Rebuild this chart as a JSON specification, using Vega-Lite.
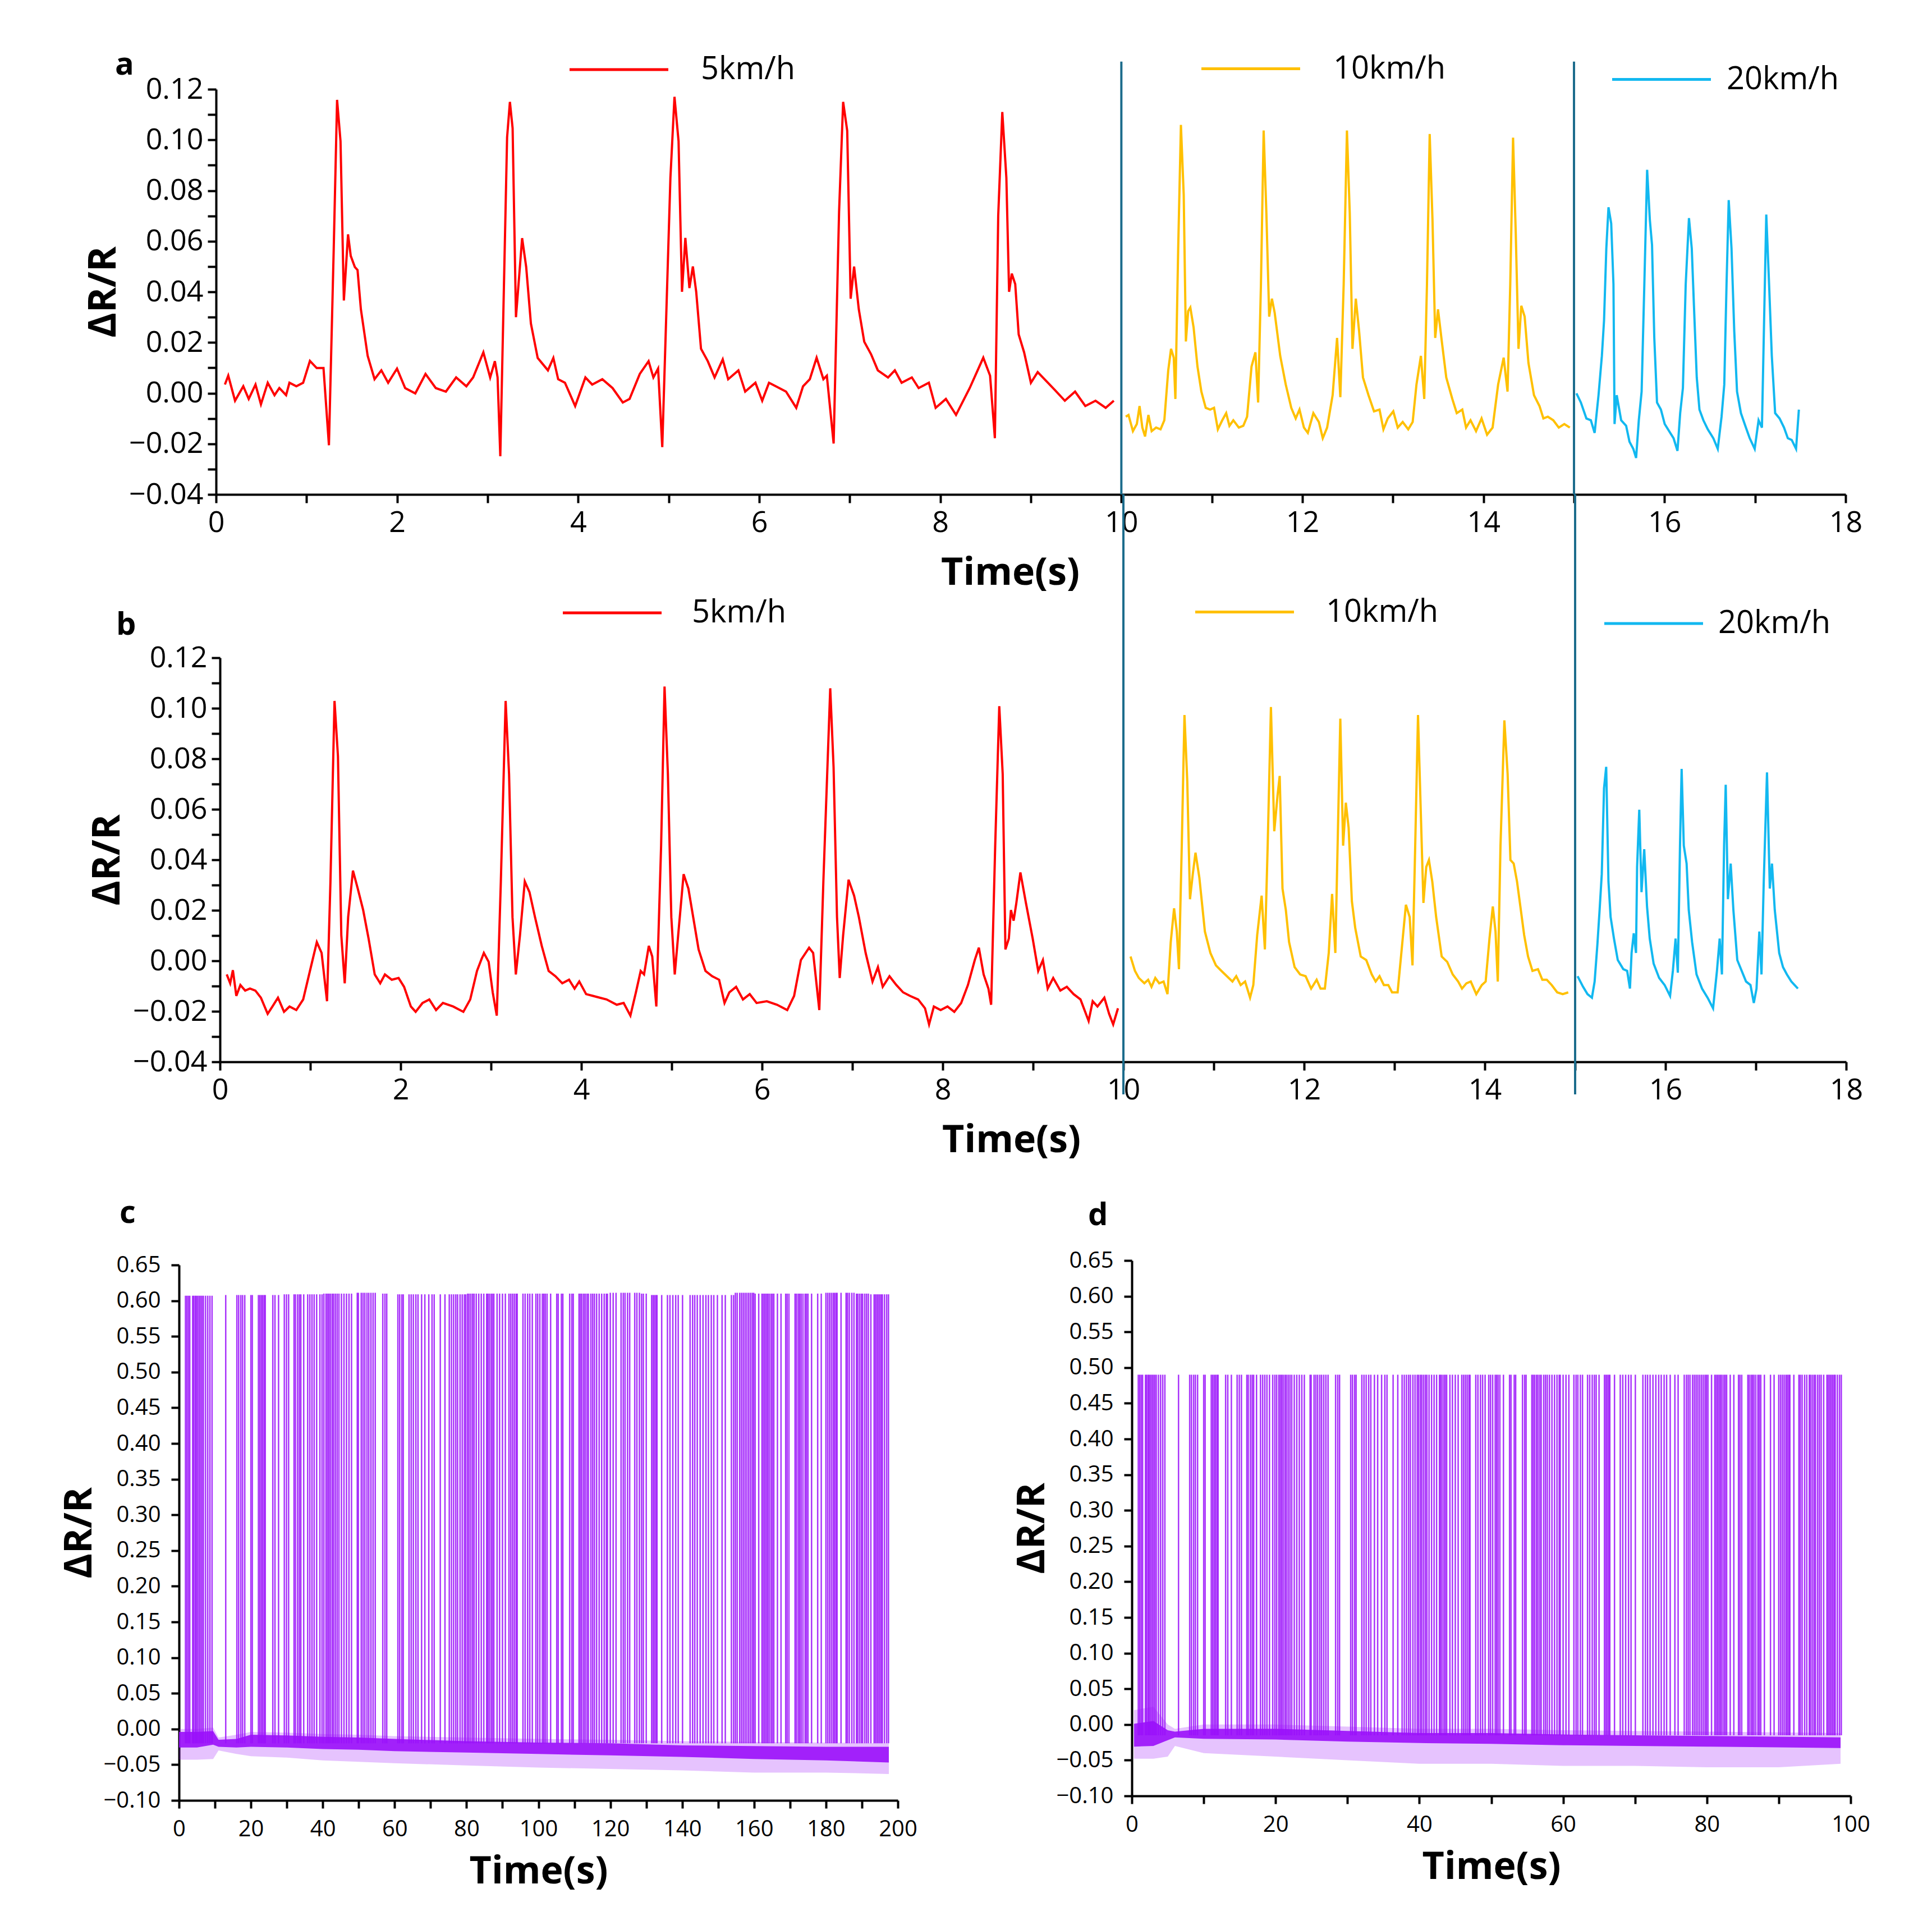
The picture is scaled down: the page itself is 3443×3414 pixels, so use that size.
{
  "$schema": "https://vega.github.io/schema/vega-lite/v6.json",
  "background": "white",
  "padding": {"left": 108, "top": 32, "right": 10, "bottom": 10},
  "bounds": "flush",
  "spacing": 291,
  "datasets": {
    "splits": [{"t": 10}, {"t": 15}],
    "a5": [{"t":0.098,"v":0.0034},{"t":0.135,"v":0.0069},{"t":0.21,"v":-0.003},{"t":0.301,"v":0.0027},{"t":0.361,"v":-0.0023},{"t":0.436,"v":0.0034},{"t":0.496,"v":-0.0044},{"t":0.571,"v":0.0041},{"t":0.646,"v":-0.0008},{"t":0.699,"v":0.002},{"t":0.774,"v":-0.0008},{"t":0.811,"v":0.0041},{"t":0.887,"v":0.0027},{"t":0.962,"v":0.0041},{"t":1.037,"v":0.0127},{"t":1.112,"v":0.0099},{"t":1.187,"v":0.0099},{"t":1.247,"v":-0.0206},{"t":1.3,"v":0.057},{"t":1.337,"v":0.1158},{"t":1.375,"v":0.0995},{"t":1.412,"v":0.0366},{"t":1.458,"v":0.0627},{"t":1.488,"v":0.0542},{"t":1.533,"v":0.0498},{"t":1.563,"v":0.0486},{"t":1.6,"v":0.0331},{"t":1.675,"v":0.0147},{"t":1.751,"v":0.0055},{"t":1.826,"v":0.009},{"t":1.901,"v":0.0041},{"t":1.999,"v":0.0097},{"t":2.089,"v":0.002},{"t":2.201,"v":-0.0001},{"t":2.314,"v":0.0076},{"t":2.427,"v":0.002},{"t":2.539,"v":0.0006},{"t":2.652,"v":0.0062},{"t":2.765,"v":0.0027},{"t":2.84,"v":0.0062},{"t":2.953,"v":0.0161},{"t":3.028,"v":0.0062},{"t":3.08,"v":0.0126},{"t":3.11,"v":0.0062},{"t":3.14,"v":-0.0249},{"t":3.215,"v":0.101},{"t":3.246,"v":0.115},{"t":3.276,"v":0.1046},{"t":3.313,"v":0.03},{"t":3.381,"v":0.0612},{"t":3.426,"v":0.0498},{"t":3.478,"v":0.0275},{"t":3.553,"v":0.0139},{"t":3.666,"v":0.009},{"t":3.726,"v":0.0139},{"t":3.779,"v":0.0055},{"t":3.854,"v":0.0041},{"t":3.967,"v":-0.0051},{"t":4.08,"v":0.0062},{"t":4.155,"v":0.0034},{"t":4.267,"v":0.0055},{"t":4.38,"v":0.002},{"t":4.493,"v":-0.0037},{"t":4.568,"v":-0.0023},{"t":4.681,"v":0.0076},{"t":4.778,"v":0.0126},{"t":4.831,"v":0.0062},{"t":4.883,"v":0.0097},{"t":4.929,"v":-0.0213},{"t":5.019,"v":0.085},{"t":5.064,"v":0.117},{"t":5.109,"v":0.0995},{"t":5.147,"v":0.04},{"t":5.184,"v":0.0613},{"t":5.229,"v":0.0415},{"t":5.267,"v":0.05},{"t":5.304,"v":0.04},{"t":5.357,"v":0.0175},{"t":5.432,"v":0.0126},{"t":5.507,"v":0.0062},{"t":5.597,"v":0.0133},{"t":5.657,"v":0.0055},{"t":5.77,"v":0.009},{"t":5.845,"v":0.0006},{"t":5.958,"v":0.0041},{"t":6.033,"v":-0.003},{"t":6.108,"v":0.0041},{"t":6.183,"v":0.0027},{"t":6.296,"v":0.0006},{"t":6.409,"v":-0.0058},{"t":6.484,"v":0.0027},{"t":6.559,"v":0.0055},{"t":6.634,"v":0.014},{"t":6.709,"v":0.0055},{"t":6.747,"v":0.0069},{"t":6.822,"v":-0.0199},{"t":6.882,"v":0.0715},{"t":6.927,"v":0.115},{"t":6.972,"v":0.1036},{"t":7.01,"v":0.0373},{"t":7.048,"v":0.05},{"t":7.1,"v":0.0331},{"t":7.16,"v":0.0203},{"t":7.235,"v":0.0154},{"t":7.31,"v":0.009},{"t":7.423,"v":0.0062},{"t":7.498,"v":0.009},{"t":7.573,"v":0.0041},{"t":7.686,"v":0.0062},{"t":7.761,"v":0.002},{"t":7.874,"v":0.0041},{"t":7.949,"v":-0.0058},{"t":8.062,"v":-0.0023},{"t":8.174,"v":-0.0086},{"t":8.325,"v":0.002},{"t":8.475,"v":0.014},{"t":8.55,"v":0.0069},{"t":8.603,"v":-0.0178},{"t":8.64,"v":0.07},{"t":8.685,"v":0.111},{"t":8.73,"v":0.085},{"t":8.76,"v":0.04},{"t":8.79,"v":0.0472},{"t":8.828,"v":0.043},{"t":8.866,"v":0.0232},{"t":8.926,"v":0.0161},{"t":9.001,"v":0.0041},{"t":9.076,"v":0.0083},{"t":9.151,"v":0.0055},{"t":9.264,"v":0.0013},{"t":9.376,"v":-0.003},{"t":9.489,"v":0.0006},{"t":9.602,"v":-0.0051},{"t":9.715,"v":-0.003},{"t":9.827,"v":-0.0058},{"t":9.917,"v":-0.003}],
    "a10": [{"t":10.049,"v":-0.0093},{"t":10.079,"v":-0.0086},{"t":10.128,"v":-0.015},{"t":10.171,"v":-0.0122},{"t":10.201,"v":-0.0051},{"t":10.232,"v":-0.0136},{"t":10.262,"v":-0.0171},{"t":10.299,"v":-0.0086},{"t":10.335,"v":-0.015},{"t":10.384,"v":-0.0136},{"t":10.433,"v":-0.0143},{"t":10.475,"v":-0.0107},{"t":10.518,"v":0.009},{"t":10.549,"v":0.0175},{"t":10.579,"v":0.014},{"t":10.597,"v":-0.0023},{"t":10.628,"v":0.0571},{"t":10.658,"v":0.1059},{"t":10.689,"v":0.0783},{"t":10.713,"v":0.0204},{"t":10.738,"v":0.0324},{"t":10.762,"v":0.0338},{"t":10.798,"v":0.026},{"t":10.841,"v":0.0105},{"t":10.884,"v":0.0006},{"t":10.932,"v":-0.0058},{"t":10.981,"v":-0.0065},{"t":11.024,"v":-0.0058},{"t":11.066,"v":-0.0143},{"t":11.115,"v":-0.0107},{"t":11.158,"v":-0.0079},{"t":11.194,"v":-0.0129},{"t":11.237,"v":-0.0107},{"t":11.298,"v":-0.0136},{"t":11.347,"v":-0.0129},{"t":11.389,"v":-0.0093},{"t":11.438,"v":0.0105},{"t":11.481,"v":0.0161},{"t":11.511,"v":-0.0037},{"t":11.542,"v":0.043},{"t":11.572,"v":0.1037},{"t":11.602,"v":0.0712},{"t":11.633,"v":0.0302},{"t":11.663,"v":0.0373},{"t":11.694,"v":0.0317},{"t":11.755,"v":0.0147},{"t":11.816,"v":0.0034},{"t":11.877,"v":-0.0058},{"t":11.926,"v":-0.01},{"t":11.968,"v":-0.0065},{"t":12.017,"v":-0.0136},{"t":12.06,"v":-0.0157},{"t":12.121,"v":-0.0079},{"t":12.182,"v":-0.0114},{"t":12.225,"v":-0.0178},{"t":12.273,"v":-0.0136},{"t":12.334,"v":-0.0008},{"t":12.383,"v":0.0218},{"t":12.419,"v":-0.0016},{"t":12.456,"v":0.043},{"t":12.492,"v":0.1037},{"t":12.523,"v":0.0712},{"t":12.553,"v":0.0175},{"t":12.59,"v":0.0373},{"t":12.626,"v":0.0246},{"t":12.669,"v":0.0062},{"t":12.73,"v":-0.0008},{"t":12.791,"v":-0.0072},{"t":12.852,"v":-0.0065},{"t":12.895,"v":-0.0143},{"t":12.943,"v":-0.01},{"t":13.004,"v":-0.0072},{"t":13.053,"v":-0.0136},{"t":13.108,"v":-0.0114},{"t":13.169,"v":-0.0143},{"t":13.218,"v":-0.0114},{"t":13.26,"v":0.0034},{"t":13.309,"v":0.0147},{"t":13.346,"v":-0.0023},{"t":13.376,"v":0.043},{"t":13.406,"v":0.1023},{"t":13.437,"v":0.0684},{"t":13.467,"v":0.0218},{"t":13.498,"v":0.0331},{"t":13.54,"v":0.0204},{"t":13.589,"v":0.0062},{"t":13.656,"v":-0.0023},{"t":13.705,"v":-0.0079},{"t":13.766,"v":-0.0065},{"t":13.808,"v":-0.0136},{"t":13.857,"v":-0.0107},{"t":13.918,"v":-0.015},{"t":13.979,"v":-0.01},{"t":14.04,"v":-0.0164},{"t":14.101,"v":-0.0136},{"t":14.162,"v":0.0034},{"t":14.223,"v":0.014},{"t":14.266,"v":0.0006},{"t":14.296,"v":0.043},{"t":14.327,"v":0.1009},{"t":14.357,"v":0.0628},{"t":14.387,"v":0.0175},{"t":14.418,"v":0.0345},{"t":14.455,"v":0.0302},{"t":14.497,"v":0.0119},{"t":14.558,"v":-0.0008},{"t":14.619,"v":-0.0051},{"t":14.662,"v":-0.01},{"t":14.711,"v":-0.0093},{"t":14.771,"v":-0.0107},{"t":14.832,"v":-0.0136},{"t":14.893,"v":-0.0122},{"t":14.954,"v":-0.0136}],
    "a20": [{"t":15.027,"v":-0.0001},{"t":15.076,"v":-0.0037},{"t":15.137,"v":-0.01},{"t":15.186,"v":-0.0107},{"t":15.228,"v":-0.0157},{"t":15.271,"v":-0.0008},{"t":15.308,"v":0.0147},{"t":15.332,"v":0.0288},{"t":15.357,"v":0.0571},{"t":15.381,"v":0.0734},{"t":15.411,"v":0.067},{"t":15.436,"v":0.043},{"t":15.448,"v":-0.0122},{"t":15.472,"v":-0.0008},{"t":15.521,"v":-0.0107},{"t":15.576,"v":-0.0129},{"t":15.613,"v":-0.0192},{"t":15.655,"v":-0.022},{"t":15.686,"v":-0.0256},{"t":15.716,"v":-0.0107},{"t":15.747,"v":0.0006},{"t":15.777,"v":0.043},{"t":15.808,"v":0.0882},{"t":15.838,"v":0.0684},{"t":15.862,"v":0.0585},{"t":15.887,"v":0.0218},{"t":15.917,"v":-0.0037},{"t":15.96,"v":-0.0065},{"t":16.002,"v":-0.0122},{"t":16.051,"v":-0.015},{"t":16.1,"v":-0.0178},{"t":16.143,"v":-0.0228},{"t":16.173,"v":-0.0079},{"t":16.203,"v":0.002},{"t":16.234,"v":0.043},{"t":16.27,"v":0.0691},{"t":16.301,"v":0.0571},{"t":16.325,"v":0.0345},{"t":16.356,"v":0.0062},{"t":16.386,"v":-0.0065},{"t":16.429,"v":-0.0107},{"t":16.478,"v":-0.0143},{"t":16.539,"v":-0.0178},{"t":16.588,"v":-0.022},{"t":16.63,"v":-0.0093},{"t":16.66,"v":0.0034},{"t":16.685,"v":0.043},{"t":16.709,"v":0.0762},{"t":16.74,"v":0.0571},{"t":16.77,"v":0.0246},{"t":16.801,"v":0.0006},{"t":16.844,"v":-0.0079},{"t":16.892,"v":-0.0129},{"t":16.941,"v":-0.0178},{"t":16.996,"v":-0.022},{"t":17.039,"v":-0.0107},{"t":17.076,"v":-0.0136},{"t":17.1,"v":0.0288},{"t":17.124,"v":0.0705},{"t":17.155,"v":0.043},{"t":17.185,"v":0.0147},{"t":17.222,"v":-0.0079},{"t":17.271,"v":-0.01},{"t":17.32,"v":-0.0136},{"t":17.362,"v":-0.0178},{"t":17.405,"v":-0.0185},{"t":17.453,"v":-0.022},{"t":17.484,"v":-0.0065}],
    "b5": [{"t":0.075,"v":-0.0054},{"t":0.113,"v":-0.0089},{"t":0.143,"v":-0.0037},{"t":0.181,"v":-0.0139},{"t":0.226,"v":-0.0096},{"t":0.279,"v":-0.0118},{"t":0.332,"v":-0.011},{"t":0.392,"v":-0.0118},{"t":0.453,"v":-0.0146},{"t":0.528,"v":-0.021},{"t":0.581,"v":-0.0181},{"t":0.642,"v":-0.0146},{"t":0.709,"v":-0.0202},{"t":0.77,"v":-0.0181},{"t":0.845,"v":-0.0195},{"t":0.921,"v":-0.0153},{"t":0.996,"v":-0.004},{"t":1.072,"v":0.0074},{"t":1.125,"v":0.0031},{"t":1.185,"v":-0.016},{"t":1.223,"v":0.0314},{"t":1.268,"v":0.1029},{"t":1.306,"v":0.081},{"t":1.343,"v":0.0102},{"t":1.381,"v":-0.0089},{"t":1.419,"v":0.0173},{"t":1.472,"v":0.0357},{"t":1.525,"v":0.0286},{"t":1.585,"v":0.0201},{"t":1.645,"v":0.0088},{"t":1.713,"v":-0.0054},{"t":1.774,"v":-0.0089},{"t":1.826,"v":-0.0054},{"t":1.902,"v":-0.0075},{"t":1.977,"v":-0.0068},{"t":2.038,"v":-0.0103},{"t":2.113,"v":-0.0181},{"t":2.166,"v":-0.0202},{"t":2.242,"v":-0.0167},{"t":2.317,"v":-0.0153},{"t":2.392,"v":-0.0195},{"t":2.468,"v":-0.0167},{"t":2.581,"v":-0.0181},{"t":2.694,"v":-0.0202},{"t":2.77,"v":-0.0153},{"t":2.845,"v":-0.004},{"t":2.921,"v":0.0031},{"t":2.974,"v":-0.0004},{"t":3.019,"v":-0.0125},{"t":3.064,"v":-0.0217},{"t":3.109,"v":0.0314},{"t":3.162,"v":0.1029},{"t":3.2,"v":0.0739},{"t":3.238,"v":0.0173},{"t":3.275,"v":-0.0054},{"t":3.321,"v":0.0102},{"t":3.374,"v":0.0314},{"t":3.426,"v":0.0272},{"t":3.487,"v":0.0173},{"t":3.562,"v":0.0059},{"t":3.638,"v":-0.004},{"t":3.713,"v":-0.0061},{"t":3.789,"v":-0.0089},{"t":3.864,"v":-0.0075},{"t":3.925,"v":-0.011},{"t":3.977,"v":-0.0082},{"t":4.053,"v":-0.0132},{"t":4.128,"v":-0.0139},{"t":4.204,"v":-0.0146},{"t":4.279,"v":-0.0153},{"t":4.392,"v":-0.0174},{"t":4.468,"v":-0.0167},{"t":4.543,"v":-0.0217},{"t":4.604,"v":-0.0125},{"t":4.657,"v":-0.004},{"t":4.694,"v":-0.0054},{"t":4.747,"v":0.0059},{"t":4.785,"v":0.0017},{"t":4.83,"v":-0.0181},{"t":4.883,"v":0.0456},{"t":4.921,"v":0.1086},{"t":4.958,"v":0.0739},{"t":4.996,"v":0.0173},{"t":5.034,"v":-0.0054},{"t":5.072,"v":0.0102},{"t":5.132,"v":0.0343},{"t":5.185,"v":0.0286},{"t":5.238,"v":0.0173},{"t":5.298,"v":0.0045},{"t":5.374,"v":-0.004},{"t":5.449,"v":-0.0061},{"t":5.525,"v":-0.0075},{"t":5.585,"v":-0.0167},{"t":5.638,"v":-0.0125},{"t":5.713,"v":-0.0103},{"t":5.789,"v":-0.0153},{"t":5.864,"v":-0.0132},{"t":5.94,"v":-0.0167},{"t":6.053,"v":-0.016},{"t":6.166,"v":-0.0174},{"t":6.279,"v":-0.0195},{"t":6.355,"v":-0.0139},{"t":6.43,"v":0.0003},{"t":6.521,"v":0.0052},{"t":6.566,"v":0.0031},{"t":6.596,"v":-0.0068},{"t":6.634,"v":-0.0195},{"t":6.679,"v":0.0314},{"t":6.755,"v":0.1079},{"t":6.792,"v":0.0767},{"t":6.83,"v":0.0173},{"t":6.86,"v":-0.0068},{"t":6.898,"v":0.0102},{"t":6.958,"v":0.0321},{"t":7.019,"v":0.0258},{"t":7.072,"v":0.0173},{"t":7.147,"v":0.0031},{"t":7.223,"v":-0.0082},{"t":7.283,"v":-0.0025},{"t":7.336,"v":-0.0103},{"t":7.411,"v":-0.0061},{"t":7.487,"v":-0.0096},{"t":7.562,"v":-0.0125},{"t":7.638,"v":-0.0139},{"t":7.728,"v":-0.0153},{"t":7.804,"v":-0.0188},{"t":7.849,"v":-0.0252},{"t":7.902,"v":-0.0181},{"t":7.977,"v":-0.0195},{"t":8.053,"v":-0.0181},{"t":8.128,"v":-0.0202},{"t":8.204,"v":-0.0167},{"t":8.279,"v":-0.0096},{"t":8.355,"v":0.0003},{"t":8.4,"v":0.0052},{"t":8.453,"v":-0.0054},{"t":8.506,"v":-0.011},{"t":8.536,"v":-0.0174},{"t":8.581,"v":0.0456},{"t":8.626,"v":0.1008},{"t":8.664,"v":0.0739},{"t":8.694,"v":0.0045},{"t":8.732,"v":0.0088},{"t":8.755,"v":0.0201},{"t":8.785,"v":0.0159},{"t":8.815,"v":0.0229},{"t":8.86,"v":0.035},{"t":8.921,"v":0.0229},{"t":8.996,"v":0.0088},{"t":9.057,"v":-0.004},{"t":9.109,"v":0.0003},{"t":9.162,"v":-0.011},{"t":9.223,"v":-0.0068},{"t":9.302,"v":-0.0118},{"t":9.374,"v":-0.0103},{"t":9.449,"v":-0.0132},{"t":9.525,"v":-0.0153},{"t":9.615,"v":-0.0238},{"t":9.66,"v":-0.016},{"t":9.713,"v":-0.0181},{"t":9.789,"v":-0.0146},{"t":9.842,"v":-0.021},{"t":9.887,"v":-0.0252},{"t":9.94,"v":-0.0188}],
    "b10": [{"t":10.079,"v":0.0017},{"t":10.128,"v":-0.004},{"t":10.171,"v":-0.0068},{"t":10.232,"v":-0.0089},{"t":10.274,"v":-0.0075},{"t":10.311,"v":-0.0103},{"t":10.353,"v":-0.0068},{"t":10.396,"v":-0.0089},{"t":10.445,"v":-0.0082},{"t":10.488,"v":-0.0132},{"t":10.524,"v":0.0074},{"t":10.561,"v":0.0208},{"t":10.591,"v":0.0116},{"t":10.615,"v":-0.0033},{"t":10.646,"v":0.0456},{"t":10.676,"v":0.0973},{"t":10.707,"v":0.0711},{"t":10.737,"v":0.0244},{"t":10.768,"v":0.0343},{"t":10.798,"v":0.0428},{"t":10.841,"v":0.0329},{"t":10.902,"v":0.0116},{"t":10.963,"v":0.0031},{"t":11.024,"v":-0.0018},{"t":11.085,"v":-0.004},{"t":11.146,"v":-0.0061},{"t":11.207,"v":-0.0082},{"t":11.249,"v":-0.0061},{"t":11.298,"v":-0.0096},{"t":11.347,"v":-0.0082},{"t":11.402,"v":-0.0146},{"t":11.438,"v":-0.0096},{"t":11.481,"v":0.0102},{"t":11.53,"v":0.0258},{"t":11.566,"v":0.0045},{"t":11.597,"v":0.0456},{"t":11.633,"v":0.1005},{"t":11.67,"v":0.0513},{"t":11.706,"v":0.0654},{"t":11.73,"v":0.0732},{"t":11.761,"v":0.0286},{"t":11.798,"v":0.0201},{"t":11.834,"v":0.0074},{"t":11.895,"v":-0.0025},{"t":11.956,"v":-0.0054},{"t":12.017,"v":-0.0061},{"t":12.078,"v":-0.011},{"t":12.139,"v":-0.0075},{"t":12.182,"v":-0.011},{"t":12.23,"v":-0.011},{"t":12.273,"v":0.0031},{"t":12.31,"v":0.0265},{"t":12.346,"v":0.0031},{"t":12.371,"v":0.0456},{"t":12.401,"v":0.0959},{"t":12.432,"v":0.0456},{"t":12.462,"v":0.0626},{"t":12.493,"v":0.0527},{"t":12.529,"v":0.0236},{"t":12.566,"v":0.013},{"t":12.627,"v":0.0017},{"t":12.688,"v":0.0003},{"t":12.749,"v":-0.0054},{"t":12.792,"v":-0.0082},{"t":12.835,"v":-0.0061},{"t":12.883,"v":-0.0096},{"t":12.932,"v":-0.0096},{"t":12.974,"v":-0.0125},{"t":13.035,"v":-0.0125},{"t":13.084,"v":0.0059},{"t":13.127,"v":0.0222},{"t":13.169,"v":0.0173},{"t":13.2,"v":-0.0018},{"t":13.23,"v":0.0456},{"t":13.261,"v":0.0973},{"t":13.291,"v":0.0598},{"t":13.321,"v":0.0229},{"t":13.352,"v":0.0371},{"t":13.382,"v":0.0399},{"t":13.419,"v":0.0314},{"t":13.462,"v":0.0173},{"t":13.523,"v":0.0017},{"t":13.584,"v":-0.0004},{"t":13.645,"v":-0.0054},{"t":13.705,"v":-0.0082},{"t":13.748,"v":-0.011},{"t":13.797,"v":-0.0089},{"t":13.845,"v":-0.0082},{"t":13.906,"v":-0.0132},{"t":13.967,"v":-0.0096},{"t":14.01,"v":-0.0082},{"t":14.052,"v":0.0088},{"t":14.089,"v":0.0215},{"t":14.119,"v":0.0116},{"t":14.144,"v":-0.0082},{"t":14.174,"v":0.0456},{"t":14.217,"v":0.0952},{"t":14.253,"v":0.0739},{"t":14.284,"v":0.0399},{"t":14.32,"v":0.0385},{"t":14.357,"v":0.0314},{"t":14.394,"v":0.0215},{"t":14.436,"v":0.0102},{"t":14.479,"v":0.0017},{"t":14.528,"v":-0.004},{"t":14.589,"v":-0.0033},{"t":14.637,"v":-0.0075},{"t":14.686,"v":-0.0075},{"t":14.741,"v":-0.0096},{"t":14.802,"v":-0.0125},{"t":14.863,"v":-0.0132},{"t":14.924,"v":-0.0125}],
    "b20": [{"t":15.027,"v":-0.0061},{"t":15.088,"v":-0.0103},{"t":15.137,"v":-0.0132},{"t":15.186,"v":-0.0146},{"t":15.216,"v":-0.0082},{"t":15.247,"v":0.0067},{"t":15.271,"v":0.0201},{"t":15.295,"v":0.0343},{"t":15.32,"v":0.0683},{"t":15.344,"v":0.0768},{"t":15.369,"v":0.0314},{"t":15.393,"v":0.0173},{"t":15.43,"v":0.0088},{"t":15.472,"v":0.0003},{"t":15.533,"v":-0.0033},{"t":15.576,"v":-0.004},{"t":15.607,"v":-0.011},{"t":15.625,"v":0.0031},{"t":15.649,"v":0.0109},{"t":15.674,"v":0.0031},{"t":15.686,"v":0.0371},{"t":15.71,"v":0.0598},{"t":15.735,"v":0.0272},{"t":15.765,"v":0.0442},{"t":15.796,"v":0.0215},{"t":15.826,"v":0.0088},{"t":15.869,"v":-0.0011},{"t":15.93,"v":-0.0068},{"t":15.991,"v":-0.0096},{"t":16.051,"v":-0.0139},{"t":16.082,"v":-0.004},{"t":16.112,"v":0.0088},{"t":16.137,"v":-0.0047},{"t":16.161,"v":0.0456},{"t":16.179,"v":0.076},{"t":16.203,"v":0.0456},{"t":16.234,"v":0.0385},{"t":16.258,"v":0.0201},{"t":16.295,"v":0.0074},{"t":16.344,"v":-0.0054},{"t":16.405,"v":-0.011},{"t":16.466,"v":-0.0146},{"t":16.527,"v":-0.0188},{"t":16.57,"v":-0.004},{"t":16.6,"v":0.0088},{"t":16.625,"v":-0.0054},{"t":16.649,"v":0.0456},{"t":16.667,"v":0.0697},{"t":16.691,"v":0.0244},{"t":16.722,"v":0.0385},{"t":16.752,"v":0.0201},{"t":16.795,"v":0.0003},{"t":16.844,"v":-0.004},{"t":16.892,"v":-0.0082},{"t":16.941,"v":-0.0096},{"t":16.978,"v":-0.0167},{"t":17.008,"v":-0.011},{"t":17.039,"v":0.0116},{"t":17.063,"v":-0.0054},{"t":17.088,"v":0.0314},{"t":17.124,"v":0.0746},{"t":17.155,"v":0.0286},{"t":17.179,"v":0.0385},{"t":17.21,"v":0.0201},{"t":17.259,"v":0.0031},{"t":17.301,"v":-0.0025},{"t":17.344,"v":-0.0054},{"t":17.393,"v":-0.0082},{"t":17.429,"v":-0.0096},{"t":17.466,"v":-0.011}],
    "cBase": [{"t":0,"lo":-0.026,"hi":-0.004,"wlo":-0.043,"whi":0},{"t":5,"lo":-0.026,"hi":-0.004,"wlo":-0.043,"whi":0},{"t":9.5,"lo":-0.022,"hi":-0.003,"wlo":-0.042,"whi":0.002},{"t":11,"lo":-0.025,"hi":-0.015,"wlo":-0.03,"whi":-0.012},{"t":16,"lo":-0.026,"hi":-0.014,"wlo":-0.035,"whi":-0.008},{"t":20,"lo":-0.025,"hi":-0.008,"wlo":-0.038,"whi":-0.004},{"t":30,"lo":-0.026,"hi":-0.009,"wlo":-0.04,"whi":-0.005},{"t":40,"lo":-0.028,"hi":-0.011,"wlo":-0.044,"whi":-0.007},{"t":50,"lo":-0.029,"hi":-0.012,"wlo":-0.046,"whi":-0.008},{"t":60,"lo":-0.031,"hi":-0.014,"wlo":-0.048,"whi":-0.01},{"t":80,"lo":-0.033,"hi":-0.017,"wlo":-0.051,"whi":-0.012},{"t":100,"lo":-0.035,"hi":-0.019,"wlo":-0.054,"whi":-0.014},{"t":120,"lo":-0.037,"hi":-0.02,"wlo":-0.056,"whi":-0.015},{"t":140,"lo":-0.039,"hi":-0.023,"wlo":-0.058,"whi":-0.017},{"t":160,"lo":-0.042,"hi":-0.024,"wlo":-0.061,"whi":-0.018},{"t":180,"lo":-0.044,"hi":-0.025,"wlo":-0.061,"whi":-0.019},{"t":197.5,"lo":-0.047,"hi":-0.025,"wlo":-0.063,"whi":-0.02}],
    "dBase": [{"t":0.3,"lo":-0.031,"hi":0.001,"wlo":-0.048,"whi":0.02},{"t":3,"lo":-0.03,"hi":0.005,"wlo":-0.048,"whi":0.025},{"t":5,"lo":-0.022,"hi":-0.008,"wlo":-0.045,"whi":0.0},{"t":6,"lo":-0.018,"hi":-0.01,"wlo":-0.03,"whi":-0.006},{"t":10,"lo":-0.02,"hi":-0.006,"wlo":-0.04,"whi":0.0},{"t":20,"lo":-0.021,"hi":-0.006,"wlo":-0.045,"whi":0.0},{"t":30,"lo":-0.024,"hi":-0.009,"wlo":-0.05,"whi":-0.003},{"t":40,"lo":-0.026,"hi":-0.012,"wlo":-0.055,"whi":-0.006},{"t":50,"lo":-0.027,"hi":-0.012,"wlo":-0.055,"whi":-0.006},{"t":60,"lo":-0.029,"hi":-0.014,"wlo":-0.058,"whi":-0.008},{"t":70,"lo":-0.03,"hi":-0.015,"wlo":-0.058,"whi":-0.009},{"t":80,"lo":-0.031,"hi":-0.016,"wlo":-0.06,"whi":-0.01},{"t":90,"lo":-0.032,"hi":-0.017,"wlo":-0.06,"whi":-0.011},{"t":98.6,"lo":-0.033,"hi":-0.018,"wlo":-0.055,"whi":-0.012}],
    "cSpikes": [{"t":1.8,"v":0.607},{"t":2.2,"v":0.607},{"t":2.6,"v":0.607},{"t":3.0,"v":0.607},{"t":3.8,"v":0.607},{"t":4.1,"v":0.607},{"t":4.5,"v":0.607},{"t":4.8,"v":0.607},{"t":5.2,"v":0.607},{"t":5.6,"v":0.607},{"t":6.0,"v":0.607},{"t":6.4,"v":0.607},{"t":6.8,"v":0.607},{"t":7.4,"v":0.607},{"t":8.0,"v":0.607},{"t":8.6,"v":0.607},{"t":9.2,"v":0.607},{"t":13.0,"v":0.608},{"t":16.1,"v":0.608},{"t":16.6,"v":0.608},{"t":17.2,"v":0.608},{"t":17.7,"v":0.608},{"t":18.3,"v":0.608},{"t":20.0,"v":0.608},{"t":20.4,"v":0.608},{"t":22.1,"v":0.608},{"t":22.5,"v":0.608},{"t":22.9,"v":0.608},{"t":23.3,"v":0.608},{"t":23.7,"v":0.608},{"t":24.0,"v":0.608},{"t":26.1,"v":0.608},{"t":26.7,"v":0.608},{"t":27.7,"v":0.608},{"t":29.3,"v":0.609},{"t":29.9,"v":0.609},{"t":30.5,"v":0.609},{"t":32.0,"v":0.609},{"t":32.4,"v":0.609},{"t":33.0,"v":0.609},{"t":33.5,"v":0.609},{"t":33.9,"v":0.609},{"t":34.7,"v":0.609},{"t":35.8,"v":0.609},{"t":36.4,"v":0.609},{"t":37.0,"v":0.609},{"t":37.6,"v":0.609},{"t":38.3,"v":0.609},{"t":39.2,"v":0.609},{"t":39.8,"v":0.609},{"t":40.3,"v":0.61},{"t":40.9,"v":0.61},{"t":41.3,"v":0.61},{"t":41.7,"v":0.61},{"t":42.1,"v":0.61},{"t":42.6,"v":0.61},{"t":43.0,"v":0.61},{"t":43.5,"v":0.61},{"t":44.0,"v":0.61},{"t":44.5,"v":0.61},{"t":45.2,"v":0.61},{"t":45.9,"v":0.61},{"t":46.6,"v":0.61},{"t":47.3,"v":0.61},{"t":48.0,"v":0.61},{"t":49.6,"v":0.611},{"t":49.9,"v":0.611},{"t":50.7,"v":0.611},{"t":51.2,"v":0.611},{"t":51.7,"v":0.611},{"t":52.3,"v":0.611},{"t":52.8,"v":0.611},{"t":53.4,"v":0.611},{"t":54.0,"v":0.611},{"t":54.6,"v":0.611},{"t":56.7,"v":0.61},{"t":57.3,"v":0.61},{"t":57.8,"v":0.61},{"t":60.9,"v":0.609},{"t":61.4,"v":0.609},{"t":62.0,"v":0.609},{"t":62.4,"v":0.609},{"t":64.0,"v":0.609},{"t":64.6,"v":0.609},{"t":65.2,"v":0.609},{"t":65.9,"v":0.609},{"t":66.5,"v":0.609},{"t":67.5,"v":0.609},{"t":68.4,"v":0.609},{"t":69.5,"v":0.609},{"t":70.4,"v":0.609},{"t":71.0,"v":0.609},{"t":72.7,"v":0.609},{"t":74.0,"v":0.609},{"t":75.2,"v":0.609},{"t":75.8,"v":0.609},{"t":76.4,"v":0.609},{"t":77.0,"v":0.609},{"t":77.5,"v":0.609},{"t":78.2,"v":0.609},{"t":78.8,"v":0.609},{"t":79.4,"v":0.609},{"t":79.8,"v":0.609},{"t":80.3,"v":0.61},{"t":80.7,"v":0.61},{"t":81.2,"v":0.61},{"t":81.7,"v":0.61},{"t":82.1,"v":0.61},{"t":82.7,"v":0.61},{"t":83.4,"v":0.61},{"t":84.1,"v":0.61},{"t":84.8,"v":0.61},{"t":85.6,"v":0.61},{"t":85.9,"v":0.61},{"t":86.3,"v":0.61},{"t":86.8,"v":0.61},{"t":87.2,"v":0.61},{"t":87.6,"v":0.61},{"t":88.5,"v":0.61},{"t":89.2,"v":0.61},{"t":90.0,"v":0.61},{"t":90.8,"v":0.61},{"t":91.8,"v":0.61},{"t":92.3,"v":0.61},{"t":92.8,"v":0.61},{"t":93.3,"v":0.61},{"t":93.8,"v":0.61},{"t":94.1,"v":0.61},{"t":95.7,"v":0.61},{"t":96.3,"v":0.61},{"t":97.0,"v":0.61},{"t":97.6,"v":0.61},{"t":98.3,"v":0.61},{"t":99.3,"v":0.61},{"t":99.8,"v":0.61},{"t":100.4,"v":0.61},{"t":101.1,"v":0.61},{"t":101.5,"v":0.61},{"t":101.9,"v":0.61},{"t":102.4,"v":0.61},{"t":103.4,"v":0.61},{"t":105.1,"v":0.61},{"t":105.5,"v":0.61},{"t":106.4,"v":0.61},{"t":106.8,"v":0.61},{"t":108.7,"v":0.61},{"t":109.3,"v":0.61},{"t":109.7,"v":0.61},{"t":111.3,"v":0.61},{"t":111.7,"v":0.61},{"t":112.1,"v":0.61},{"t":112.6,"v":0.61},{"t":113.0,"v":0.61},{"t":113.5,"v":0.61},{"t":113.9,"v":0.61},{"t":114.6,"v":0.61},{"t":115.1,"v":0.61},{"t":115.6,"v":0.61},{"t":116.2,"v":0.61},{"t":116.9,"v":0.61},{"t":117.6,"v":0.61},{"t":118.3,"v":0.61},{"t":118.9,"v":0.61},{"t":119.2,"v":0.61},{"t":120.0,"v":0.611},{"t":120.8,"v":0.611},{"t":121.6,"v":0.611},{"t":123.0,"v":0.611},{"t":123.6,"v":0.611},{"t":124.1,"v":0.611},{"t":124.8,"v":0.611},{"t":125.4,"v":0.611},{"t":126.8,"v":0.611},{"t":127.4,"v":0.611},{"t":128.1,"v":0.611},{"t":128.7,"v":0.61},{"t":129.2,"v":0.61},{"t":130.0,"v":0.61},{"t":131.5,"v":0.608},{"t":131.9,"v":0.608},{"t":132.3,"v":0.608},{"t":132.7,"v":0.608},{"t":133.0,"v":0.608},{"t":134.3,"v":0.608},{"t":135.9,"v":0.608},{"t":136.6,"v":0.608},{"t":137.4,"v":0.608},{"t":138.2,"v":0.608},{"t":138.9,"v":0.608},{"t":140.1,"v":0.608},{"t":142.2,"v":0.608},{"t":142.9,"v":0.608},{"t":143.5,"v":0.608},{"t":144.2,"v":0.608},{"t":145.0,"v":0.608},{"t":145.8,"v":0.608},{"t":146.6,"v":0.608},{"t":147.3,"v":0.608},{"t":148.1,"v":0.608},{"t":148.8,"v":0.608},{"t":149.8,"v":0.608},{"t":151.1,"v":0.608},{"t":152.0,"v":0.608},{"t":153.7,"v":0.608},{"t":154.3,"v":0.608},{"t":154.8,"v":0.611},{"t":155.3,"v":0.611},{"t":156.0,"v":0.611},{"t":156.5,"v":0.611},{"t":157.0,"v":0.611},{"t":157.5,"v":0.611},{"t":158.0,"v":0.611},{"t":158.5,"v":0.611},{"t":159.0,"v":0.611},{"t":159.5,"v":0.611},{"t":159.9,"v":0.611},{"t":160.3,"v":0.61},{"t":161.3,"v":0.61},{"t":162.2,"v":0.61},{"t":162.6,"v":0.61},{"t":163.0,"v":0.61},{"t":163.4,"v":0.61},{"t":163.8,"v":0.61},{"t":164.2,"v":0.61},{"t":164.7,"v":0.61},{"t":165.1,"v":0.61},{"t":165.5,"v":0.61},{"t":166.5,"v":0.61},{"t":167.5,"v":0.61},{"t":168.8,"v":0.61},{"t":169.2,"v":0.61},{"t":169.7,"v":0.61},{"t":171.4,"v":0.61},{"t":171.8,"v":0.61},{"t":172.3,"v":0.61},{"t":172.7,"v":0.61},{"t":173.1,"v":0.61},{"t":173.6,"v":0.61},{"t":174.2,"v":0.61},{"t":174.6,"v":0.61},{"t":175.0,"v":0.61},{"t":176.0,"v":0.61},{"t":177.7,"v":0.61},{"t":178.7,"v":0.61},{"t":180.0,"v":0.611},{"t":180.5,"v":0.611},{"t":181.0,"v":0.611},{"t":181.5,"v":0.611},{"t":182.0,"v":0.611},{"t":182.4,"v":0.611},{"t":182.8,"v":0.611},{"t":183.1,"v":0.611},{"t":184.2,"v":0.611},{"t":185.6,"v":0.611},{"t":186.0,"v":0.611},{"t":186.5,"v":0.611},{"t":187.2,"v":0.611},{"t":187.8,"v":0.611},{"t":188.5,"v":0.61},{"t":188.8,"v":0.61},{"t":189.3,"v":0.61},{"t":189.8,"v":0.61},{"t":190.2,"v":0.61},{"t":190.8,"v":0.61},{"t":191.3,"v":0.61},{"t":191.8,"v":0.61},{"t":192.5,"v":0.609},{"t":193.4,"v":0.609},{"t":193.8,"v":0.609},{"t":194.2,"v":0.609},{"t":194.6,"v":0.609},{"t":195.0,"v":0.609},{"t":195.4,"v":0.609},{"t":195.7,"v":0.609},{"t":196.3,"v":0.609},{"t":196.9,"v":0.609},{"t":197.4,"v":0.609}],
    "dSpikes": [{"t":0.9,"v":0.49},{"t":1.1,"v":0.49},{"t":1.3,"v":0.49},{"t":1.5,"v":0.49},{"t":1.9,"v":0.49},{"t":2.05,"v":0.49},{"t":2.25,"v":0.49},{"t":2.4,"v":0.49},{"t":2.6,"v":0.49},{"t":2.8,"v":0.49},{"t":3.0,"v":0.49},{"t":3.2,"v":0.49},{"t":3.4,"v":0.49},{"t":3.7,"v":0.49},{"t":4.0,"v":0.49},{"t":4.3,"v":0.49},{"t":4.6,"v":0.49},{"t":6.5,"v":0.49},{"t":8.05,"v":0.49},{"t":8.3,"v":0.49},{"t":8.6,"v":0.49},{"t":8.85,"v":0.49},{"t":9.15,"v":0.49},{"t":10.0,"v":0.49},{"t":10.2,"v":0.49},{"t":11.05,"v":0.49},{"t":11.25,"v":0.49},{"t":11.45,"v":0.49},{"t":11.65,"v":0.49},{"t":11.85,"v":0.49},{"t":12.0,"v":0.49},{"t":13.05,"v":0.49},{"t":13.35,"v":0.49},{"t":13.85,"v":0.49},{"t":14.65,"v":0.49},{"t":14.95,"v":0.49},{"t":15.25,"v":0.49},{"t":16.0,"v":0.49},{"t":16.2,"v":0.49},{"t":16.5,"v":0.49},{"t":16.75,"v":0.49},{"t":16.95,"v":0.49},{"t":17.35,"v":0.49},{"t":17.9,"v":0.49},{"t":18.2,"v":0.49},{"t":18.5,"v":0.49},{"t":18.8,"v":0.49},{"t":19.15,"v":0.49},{"t":19.6,"v":0.49},{"t":19.9,"v":0.49},{"t":20.15,"v":0.49},{"t":20.45,"v":0.49},{"t":20.65,"v":0.49},{"t":20.85,"v":0.49},{"t":21.05,"v":0.49},{"t":21.3,"v":0.49},{"t":21.5,"v":0.49},{"t":21.75,"v":0.49},{"t":22.0,"v":0.49},{"t":22.25,"v":0.49},{"t":22.6,"v":0.49},{"t":22.95,"v":0.49},{"t":23.3,"v":0.49},{"t":23.65,"v":0.49},{"t":24.0,"v":0.49},{"t":24.8,"v":0.49},{"t":24.95,"v":0.49},{"t":25.35,"v":0.49},{"t":25.6,"v":0.49},{"t":25.85,"v":0.49},{"t":26.15,"v":0.49},{"t":26.4,"v":0.49},{"t":26.7,"v":0.49},{"t":27.0,"v":0.49},{"t":27.3,"v":0.49},{"t":28.35,"v":0.49},{"t":28.65,"v":0.49},{"t":28.9,"v":0.49},{"t":30.45,"v":0.49},{"t":30.7,"v":0.49},{"t":31.0,"v":0.49},{"t":31.2,"v":0.49},{"t":32.0,"v":0.49},{"t":32.3,"v":0.49},{"t":32.6,"v":0.49},{"t":32.95,"v":0.49},{"t":33.25,"v":0.49},{"t":33.75,"v":0.49},{"t":34.2,"v":0.49},{"t":34.75,"v":0.49},{"t":35.2,"v":0.49},{"t":35.5,"v":0.49},{"t":36.35,"v":0.49},{"t":37.0,"v":0.49},{"t":37.6,"v":0.49},{"t":37.9,"v":0.49},{"t":38.2,"v":0.49},{"t":38.5,"v":0.49},{"t":38.75,"v":0.49},{"t":39.1,"v":0.49},{"t":39.4,"v":0.49},{"t":39.7,"v":0.49},{"t":39.9,"v":0.49},{"t":40.15,"v":0.49},{"t":40.35,"v":0.49},{"t":40.6,"v":0.49},{"t":40.85,"v":0.49},{"t":41.05,"v":0.49},{"t":41.35,"v":0.49},{"t":41.7,"v":0.49},{"t":42.05,"v":0.49},{"t":42.4,"v":0.49},{"t":42.8,"v":0.49},{"t":42.95,"v":0.49},{"t":43.15,"v":0.49},{"t":43.4,"v":0.49},{"t":43.6,"v":0.49},{"t":43.8,"v":0.49},{"t":44.25,"v":0.49},{"t":44.6,"v":0.49},{"t":45.0,"v":0.49},{"t":45.4,"v":0.49},{"t":45.9,"v":0.49},{"t":46.15,"v":0.49},{"t":46.4,"v":0.49},{"t":46.65,"v":0.49},{"t":46.9,"v":0.49},{"t":47.05,"v":0.49},{"t":47.85,"v":0.49},{"t":48.15,"v":0.49},{"t":48.5,"v":0.49},{"t":48.8,"v":0.49},{"t":49.15,"v":0.49},{"t":49.65,"v":0.49},{"t":49.9,"v":0.49},{"t":50.2,"v":0.49},{"t":50.55,"v":0.49},{"t":50.75,"v":0.49},{"t":50.95,"v":0.49},{"t":51.2,"v":0.49},{"t":51.7,"v":0.49},{"t":52.55,"v":0.49},{"t":52.75,"v":0.49},{"t":53.2,"v":0.49},{"t":53.4,"v":0.49},{"t":54.35,"v":0.49},{"t":54.65,"v":0.49},{"t":54.85,"v":0.49},{"t":55.65,"v":0.49},{"t":55.85,"v":0.49},{"t":56.05,"v":0.49},{"t":56.3,"v":0.49},{"t":56.5,"v":0.49},{"t":56.75,"v":0.49},{"t":56.95,"v":0.49},{"t":57.3,"v":0.49},{"t":57.55,"v":0.49},{"t":57.8,"v":0.49},{"t":58.1,"v":0.49},{"t":58.45,"v":0.49},{"t":58.8,"v":0.49},{"t":59.15,"v":0.49},{"t":59.45,"v":0.49},{"t":59.6,"v":0.49},{"t":60.0,"v":0.49},{"t":60.4,"v":0.49},{"t":60.8,"v":0.49},{"t":61.5,"v":0.49},{"t":61.8,"v":0.49},{"t":62.05,"v":0.49},{"t":62.4,"v":0.49},{"t":62.7,"v":0.49},{"t":63.4,"v":0.49},{"t":63.7,"v":0.49},{"t":64.05,"v":0.49},{"t":64.35,"v":0.49},{"t":64.6,"v":0.49},{"t":65.0,"v":0.49},{"t":65.75,"v":0.49},{"t":65.95,"v":0.49},{"t":66.15,"v":0.49},{"t":66.35,"v":0.49},{"t":66.5,"v":0.49},{"t":67.15,"v":0.49},{"t":67.95,"v":0.49},{"t":68.3,"v":0.49},{"t":68.7,"v":0.49},{"t":69.1,"v":0.49},{"t":69.45,"v":0.49},{"t":70.05,"v":0.49},{"t":71.1,"v":0.49},{"t":71.45,"v":0.49},{"t":71.75,"v":0.49},{"t":72.1,"v":0.49},{"t":72.5,"v":0.49},{"t":72.9,"v":0.49},{"t":73.3,"v":0.49},{"t":73.65,"v":0.49},{"t":74.05,"v":0.49},{"t":74.4,"v":0.49},{"t":74.9,"v":0.49},{"t":75.55,"v":0.49},{"t":76.0,"v":0.49},{"t":76.85,"v":0.49},{"t":77.15,"v":0.49},{"t":77.4,"v":0.49},{"t":77.65,"v":0.49},{"t":78.0,"v":0.49},{"t":78.25,"v":0.49},{"t":78.5,"v":0.49},{"t":78.75,"v":0.49},{"t":79.0,"v":0.49},{"t":79.25,"v":0.49},{"t":79.5,"v":0.49},{"t":79.75,"v":0.49},{"t":79.95,"v":0.49},{"t":80.15,"v":0.49},{"t":80.65,"v":0.49},{"t":81.1,"v":0.49},{"t":81.3,"v":0.49},{"t":81.5,"v":0.49},{"t":81.7,"v":0.49},{"t":81.9,"v":0.49},{"t":82.1,"v":0.49},{"t":82.35,"v":0.49},{"t":82.55,"v":0.49},{"t":82.75,"v":0.49},{"t":83.25,"v":0.49},{"t":83.75,"v":0.49},{"t":84.4,"v":0.49},{"t":84.6,"v":0.49},{"t":84.85,"v":0.49},{"t":85.7,"v":0.49},{"t":85.9,"v":0.49},{"t":86.15,"v":0.49},{"t":86.35,"v":0.49},{"t":86.55,"v":0.49},{"t":86.8,"v":0.49},{"t":87.1,"v":0.49},{"t":87.3,"v":0.49},{"t":87.5,"v":0.49},{"t":88.0,"v":0.49},{"t":88.85,"v":0.49},{"t":89.35,"v":0.49},{"t":90.0,"v":0.49},{"t":90.25,"v":0.49},{"t":90.5,"v":0.49},{"t":90.75,"v":0.49},{"t":91.0,"v":0.49},{"t":91.2,"v":0.49},{"t":91.4,"v":0.49},{"t":91.55,"v":0.49},{"t":92.1,"v":0.49},{"t":92.8,"v":0.49},{"t":93.0,"v":0.49},{"t":93.25,"v":0.49},{"t":93.6,"v":0.49},{"t":93.9,"v":0.49},{"t":94.25,"v":0.49},{"t":94.4,"v":0.49},{"t":94.65,"v":0.49},{"t":94.9,"v":0.49},{"t":95.1,"v":0.49},{"t":95.4,"v":0.49},{"t":95.65,"v":0.49},{"t":95.9,"v":0.49},{"t":96.25,"v":0.49},{"t":96.7,"v":0.49},{"t":96.9,"v":0.49},{"t":97.1,"v":0.49},{"t":97.3,"v":0.49},{"t":97.5,"v":0.49},{"t":97.7,"v":0.49},{"t":97.85,"v":0.49},{"t":98.15,"v":0.49},{"t":98.45,"v":0.49},{"t":98.7,"v":0.49}]
  },
  "vconcat": [
    {
      "width": 2970,
      "height": 722,
      "layer": [
        {
          "data": {"name": "a5"},
          "mark": {"type": "line", "strokeWidth": 4},
          "encoding": {
            "x": {"field": "t", "type": "quantitative", "scale": {"domain": [0, 18], "range": [66, 2970], "nice": false, "zero": false},
              "axis": {"title": "Time(s)", "titleX": 1481, "values": [0,1,2,3,4,5,6,7,8,9,10,11,12,13,14,15,16,17,18], "labelExpr": "datum.value % 2 == 0 ? format(datum.value, 'd') : ''", "tickSize": 15, "encode": {"ticks": {"update": {"y2": {"signal": "datum.value % 2 == 1 ? 8 : 15"}}}}, "labelFontSize": 52, "labelPadding": 10, "titlePadding": 30}},
            "y": {"field": "v", "type": "quantitative", "scale": {"domain": [-0.04, 0.12], "nice": false, "zero": false},
              "axis": {"title": "ΔR/R", "offset": -66, "values": [-0.04,-0.03,-0.02,-0.01,0,0.01,0.02,0.03,0.04,0.05,0.06,0.07,0.08,0.09,0.1,0.11,0.12], "labelExpr": "abs(round(datum.value*100)) % 2 == 1 ? '' : format(datum.value, '.2f')", "tickSize": 15, "encode": {"ticks": {"update": {"x2": {"signal": "abs(round(datum.value*100)) % 2 == 1 ? -8 : -15"}}}}, "labelFontSize": 52, "labelPadding": 8, "titlePadding": 10}},
            "color": {"datum": "5km/h", "type": "nominal", "scale": {"range": ["#FF0000"]},
              "legend": {"title": null, "orient": "none", "legendX": 693.5, "legendY": -125.5, "labelOffset": 55.5, "encode": {"symbols": {"update": {"strokeWidth": {"value": 5}}}}}}
          }
        },
        {
          "data": {"name": "a10"},
          "mark": {"type": "line", "strokeWidth": 4},
          "encoding": {
            "x": {"field": "t", "type": "quantitative", "scale": {"domain": [0, 18], "range": [66, 2970], "nice": false, "zero": false}},
            "y": {"field": "v", "type": "quantitative", "scale": {"domain": [-0.04, 0.12], "nice": false, "zero": false}},
            "color": {"datum": "10km/h", "type": "nominal", "scale": {"range": ["#FFC000"]},
              "legend": {"title": null, "orient": "none", "legendX": 1819.5, "legendY": -127, "labelOffset": 56.5, "encode": {"symbols": {"update": {"stroke": {"value": "#FF8C00"}, "strokeWidth": {"value": 5}}}}}}
          }
        },
        {
          "data": {"name": "a20"},
          "mark": {"type": "line", "strokeWidth": 4},
          "encoding": {
            "x": {"field": "t", "type": "quantitative", "scale": {"domain": [0, 18], "range": [66, 2970], "nice": false, "zero": false}},
            "y": {"field": "v", "type": "quantitative", "scale": {"domain": [-0.04, 0.12], "nice": false, "zero": false}},
            "color": {"datum": "20km/h", "type": "nominal", "scale": {"range": ["#12B8F0"]},
              "legend": {"title": null, "orient": "none", "legendX": 2551.5, "legendY": -108, "labelOffset": 25.5, "encode": {"symbols": {"update": {"strokeWidth": {"value": 5}}}}}}
          }
        },
        {
          "data": {"name": "splits"},
          "mark": {"type": "rule", "color": "#1C6C8C", "strokeWidth": 4},
          "encoding": {
            "x": {"field": "t", "type": "quantitative", "scale": {"domain": [0, 18], "range": [66, 2970], "nice": false, "zero": false}},
            "y": {"datum": 0.1309, "type": "quantitative", "scale": {"domain": [-0.04, 0.12], "nice": false, "zero": false}},
            "y2": {"datum": -0.04}
          }
        },
        {
          "data": {"values": [{"label": "a"}]},
          "mark": {"type": "text", "font": "Open Sans", "fontSize": 56, "fontWeight": "bold", "align": "left", "baseline": "alphabetic", "color": "#000"},
          "encoding": {
            "x": {"datum": -1.116, "type": "quantitative", "scale": {"domain": [0, 18], "range": [66, 2970], "nice": false, "zero": false}},
            "y": {"datum": 0.1258, "type": "quantitative", "scale": {"domain": [-0.04, 0.12], "nice": false, "zero": false}},
            "text": {"field": "label"}
          }
        }
      ],
      "resolve": {"scale": {"color": "independent"}}
    },
    {
      "width": 2971,
      "height": 783,
      "layer": [
        {
          "data": {"name": "b5"},
          "mark": {"type": "line", "strokeWidth": 4},
          "encoding": {
            "x": {"field": "t", "type": "quantitative", "scale": {"domain": [0, 18], "range": [73, 2971], "nice": false, "zero": false},
              "axis": {"title": "Time(s)", "titleX": 1483, "offset": -63, "values": [0,1,2,3,4,5,6,7,8,9,10,11,12,13,14,15,16,17,18], "labelExpr": "datum.value % 2 == 0 ? format(datum.value, 'd') : ''", "tickSize": 15, "encode": {"ticks": {"update": {"y2": {"signal": "datum.value % 2 == 1 ? 8 : 15"}}}}, "labelFontSize": 52, "labelPadding": 10, "titlePadding": 30}},
            "y": {"field": "v", "type": "quantitative", "scale": {"domain": [-0.04, 0.12], "range": [720, 0], "nice": false, "zero": false},
              "axis": {"title": "ΔR/R", "offset": -73, "values": [-0.04,-0.03,-0.02,-0.01,0,0.01,0.02,0.03,0.04,0.05,0.06,0.07,0.08,0.09,0.1,0.11,0.12], "labelExpr": "abs(round(datum.value*100)) % 2 == 1 ? '' : format(datum.value, '.2f')", "tickSize": 15, "encode": {"ticks": {"update": {"x2": {"signal": "abs(round(datum.value*100)) % 2 == 1 ? -8 : -15"}}}}, "labelFontSize": 52, "labelPadding": 8, "titlePadding": 10}},
            "color": {"datum": "5km/h", "type": "nominal", "scale": {"range": ["#FF0000"]},
              "legend": {"title": null, "orient": "none", "legendX": 681.5, "legendY": -170.5, "labelOffset": 51.5, "encode": {"symbols": {"update": {"strokeWidth": {"value": 5}}}}}}
          }
        },
        {
          "data": {"name": "b10"},
          "mark": {"type": "line", "strokeWidth": 4},
          "encoding": {
            "x": {"field": "t", "type": "quantitative", "scale": {"domain": [0, 18], "range": [73, 2971], "nice": false, "zero": false}},
            "y": {"field": "v", "type": "quantitative", "scale": {"domain": [-0.04, 0.12], "range": [720, 0], "nice": false, "zero": false}},
            "color": {"datum": "10km/h", "type": "nominal", "scale": {"range": ["#FFC000"]},
              "legend": {"title": null, "orient": "none", "legendX": 1808.5, "legendY": -172, "labelOffset": 54.5, "encode": {"symbols": {"update": {"stroke": {"value": "#FF8C00"}, "strokeWidth": {"value": 5}}}}}}
          }
        },
        {
          "data": {"name": "b20"},
          "mark": {"type": "line", "strokeWidth": 4},
          "encoding": {
            "x": {"field": "t", "type": "quantitative", "scale": {"domain": [0, 18], "range": [73, 2971], "nice": false, "zero": false}},
            "y": {"field": "v", "type": "quantitative", "scale": {"domain": [-0.04, 0.12], "range": [720, 0], "nice": false, "zero": false}},
            "color": {"datum": "20km/h", "type": "nominal", "scale": {"range": ["#12B8F0"]},
              "legend": {"title": null, "orient": "none", "legendX": 2537.5, "legendY": -151.5, "labelOffset": 24.5, "encode": {"symbols": {"update": {"strokeWidth": {"value": 5}}}}}}
          }
        },
        {
          "data": {"name": "splits"},
          "mark": {"type": "rule", "color": "#1C6C8C", "strokeWidth": 4},
          "encoding": {
            "x": {"field": "t", "type": "quantitative", "scale": {"domain": [0, 18], "range": [73, 2971], "nice": false, "zero": false}},
            "y": {"datum": 0.1847, "type": "quantitative", "scale": {"domain": [-0.04, 0.12], "range": [720, 0], "nice": false, "zero": false}},
            "y2": {"datum": -0.0529}
          }
        },
        {
          "data": {"values": [{"label": "b"}]},
          "mark": {"type": "text", "font": "Open Sans", "fontSize": 56, "fontWeight": "bold", "align": "left", "baseline": "alphabetic", "color": "#000"},
          "encoding": {
            "x": {"datum": -1.149, "type": "quantitative", "scale": {"domain": [0, 18], "range": [73, 2971], "nice": false, "zero": false}},
            "y": {"datum": 0.1291, "type": "quantitative", "scale": {"domain": [-0.04, 0.12], "range": [720, 0], "nice": false, "zero": false}},
            "text": {"field": "label"}
          }
        }
      ],
      "resolve": {"scale": {"color": "independent"}}
    },
    {
      "width": 2979,
      "height": 962,
      "layer": [
        {
          "layer": [
            {
              "data": {"name": "cBase"},
              "mark": {"type": "area", "color": "#9A10FA", "opacity": 0.25},
              "encoding": {
                "x": {"field": "t", "type": "quantitative", "scale": {"domain": [0, 200], "range": [0, 1281], "nice": false, "zero": false},
                  "axis": {"title": "Time(s)", "values": [0,10,20,30,40,50,60,70,80,90,100,110,120,130,140,150,160,170,180,190,200], "labelExpr": "datum.value % 20 == 0 ? format(datum.value, 'd') : ''", "tickSize": 14, "encode": {"ticks": {"update": {"y2": {"signal": "datum.value % 20 != 0 ? 8 : 14"}}}}, "labelFontSize": 40, "labelPadding": 17, "titlePadding": 22}},
                "y": {"field": "wlo", "type": "quantitative", "scale": {"domain": [-0.1, 0.65], "range": [962, 8], "nice": false, "zero": false},
                  "axis": {"title": "ΔR/R", "values": [-0.1,-0.075,-0.05,-0.025,0,0.025,0.05,0.075,0.1,0.125,0.15,0.175,0.2,0.225,0.25,0.275,0.3,0.325,0.35,0.375,0.4,0.425,0.45,0.475,0.5,0.525,0.55,0.575,0.6,0.625,0.65], "labelExpr": "round(datum.value*1000) % 50 == 0 ? format(datum.value, '.2f') : ''", "tickSize": 14, "encode": {"ticks": {"update": {"x2": {"signal": "round(datum.value*1000) % 50 != 0 ? -8 : -14"}}}}, "labelFontSize": 40, "labelPadding": 19, "titlePadding": 8}},
                "y2": {"field": "whi"}
              }
            },
            {
              "data": {"name": "cBase"},
              "mark": {"type": "area", "color": "#9A10FA", "opacity": 0.9},
              "encoding": {
                "x": {"field": "t", "type": "quantitative", "scale": {"domain": [0, 200], "range": [0, 1281], "nice": false, "zero": false}},
                "y": {"field": "lo", "type": "quantitative", "scale": {"domain": [-0.1, 0.65], "range": [962, 8], "nice": false, "zero": false}},
                "y2": {"field": "hi"}
              }
            },
            {
              "data": {"name": "cSpikes"},
              "mark": {"type": "rule", "color": "#9A10FA", "strokeWidth": 2.5, "opacity": 0.85},
              "encoding": {
                "x": {"field": "t", "type": "quantitative", "scale": {"domain": [0, 200], "range": [0, 1281], "nice": false, "zero": false}},
                "y": {"field": "v", "type": "quantitative", "scale": {"domain": [-0.1, 0.65], "range": [962, 8], "nice": false, "zero": false}},
                "y2": {"datum": -0.02}
              }
            },
            {
              "data": {"values": [{"label": "c"}]},
              "mark": {"type": "text", "font": "Open Sans", "fontSize": 56, "fontWeight": "bold", "align": "left", "baseline": "alphabetic", "color": "#000"},
              "encoding": {
                "x": {"datum": -16.55, "type": "quantitative", "scale": {"domain": [0, 200], "range": [0, 1281], "nice": false, "zero": false}},
                "y": {"datum": 0.709, "type": "quantitative", "scale": {"domain": [-0.1, 0.65], "range": [962, 8], "nice": false, "zero": false}},
                "text": {"field": "label"}
              }
            }
          ]
        },
        {
          "layer": [
            {
              "data": {"name": "dBase"},
              "mark": {"type": "area", "color": "#9A10FA", "opacity": 0.25},
              "encoding": {
                "x": {"field": "t", "type": "quantitative", "scale": {"domain": [0, 100], "range": [1698, 2979], "nice": false, "zero": false},
                  "axis": {"title": "Time(s)", "orient": "bottom", "offset": -8, "values": [0,10,20,30,40,50,60,70,80,90,100], "labelExpr": "datum.value % 20 == 0 ? format(datum.value, 'd') : ''", "tickSize": 14, "encode": {"ticks": {"update": {"y2": {"signal": "datum.value % 20 != 0 ? 8 : 14"}}}}, "labelFontSize": 40, "labelPadding": 17, "titlePadding": 22}},
                "y": {"field": "wlo", "type": "quantitative", "scale": {"domain": [-0.1, 0.65], "range": [954, 0], "nice": false, "zero": false},
                  "axis": {"title": "ΔR/R", "orient": "left", "offset": -1698, "values": [-0.1,-0.075,-0.05,-0.025,0,0.025,0.05,0.075,0.1,0.125,0.15,0.175,0.2,0.225,0.25,0.275,0.3,0.325,0.35,0.375,0.4,0.425,0.45,0.475,0.5,0.525,0.55,0.575,0.6,0.625,0.65], "labelExpr": "round(datum.value*1000) % 50 == 0 ? format(datum.value, '.2f') : ''", "tickSize": 14, "encode": {"ticks": {"update": {"x2": {"signal": "round(datum.value*1000) % 50 != 0 ? -8 : -14"}}}}, "labelFontSize": 40, "labelPadding": 19, "titlePadding": 8}},
                "y2": {"field": "whi"}
              }
            },
            {
              "data": {"name": "dBase"},
              "mark": {"type": "area", "color": "#9A10FA", "opacity": 0.9},
              "encoding": {
                "x": {"field": "t", "type": "quantitative", "scale": {"domain": [0, 100], "range": [1698, 2979], "nice": false, "zero": false}},
                "y": {"field": "lo", "type": "quantitative", "scale": {"domain": [-0.1, 0.65], "range": [954, 0], "nice": false, "zero": false}},
                "y2": {"field": "hi"}
              }
            },
            {
              "data": {"name": "dSpikes"},
              "mark": {"type": "rule", "color": "#9A10FA", "strokeWidth": 2.5, "opacity": 0.85},
              "encoding": {
                "x": {"field": "t", "type": "quantitative", "scale": {"domain": [0, 100], "range": [1698, 2979], "nice": false, "zero": false}},
                "y": {"field": "v", "type": "quantitative", "scale": {"domain": [-0.1, 0.65], "range": [954, 0], "nice": false, "zero": false}},
                "y2": {"datum": -0.015}
              }
            },
            {
              "data": {"values": [{"label": "d"}]},
              "mark": {"type": "text", "font": "Open Sans", "fontSize": 56, "fontWeight": "bold", "align": "left", "baseline": "alphabetic", "color": "#000"},
              "encoding": {
                "x": {"datum": -6.09, "type": "quantitative", "scale": {"domain": [0, 100], "range": [1698, 2979], "nice": false, "zero": false}},
                "y": {"datum": 0.6995, "type": "quantitative", "scale": {"domain": [-0.1, 0.65], "range": [954, 0], "nice": false, "zero": false}},
                "text": {"field": "label"}
              }
            }
          ]
        }
      ],
      "resolve": {"scale": {"x": "independent", "y": "independent"}}
    }
  ],
  "config": {
    "view": {"stroke": null},
    "axis": {
      "grid": false,
      "domainColor": "#000",
      "domainWidth": 4,
      "tickColor": "#000",
      "tickWidth": 4,
      "labelColor": "#000",
      "labelFont": "Open Sans",
      "titleFont": "Open Sans",
      "titleFontSize": 68,
      "titleFontWeight": "bold",
      "titleColor": "#000",
      "labelFlush": false,
      "labelOverlap": false,
      "labelBound": false
    },
    "legend": {
      "symbolType": "stroke",
      "symbolSize": 30976,
      "symbolStrokeWidth": 5,
      "labelFont": "Open Sans",
      "labelFontSize": 56,
      "labelColor": "#000",
      "labelLimit": 600
    }
  }
}
